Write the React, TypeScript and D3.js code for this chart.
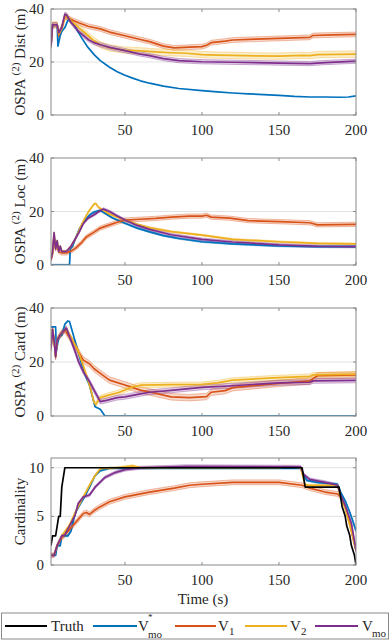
import React, { useEffect } from 'react';
import * as d3 from 'd3';

type Pt = [number, number];

// time axis
const timeTicks = [50, 100, 150, 200];
const ospaTicks = [0, 20, 40];
const cardTicks = [0, 5, 10];

// OSPA(2) Dist
const distVmoStar: Pt[] = [[2,26],[3,34],[6,34],[6.5,26],[8,30],[9,31.5],[11,33],[13,35.8],[15,35.6],[18,33],[22,29],[26,25.5],[30,22.8],[34,20.5],[40,18],[45,16.3],[50,15],[55,13.9],[60,12.9],[66,12],[75,10.9],[85,10],[100,9.2],[110,8.7],[120,8.3],[130,8],[140,7.7],[150,7.4],[160,7],[170,6.8],[180,6.8],[190,6.7],[195,6.8],[200,7.2]];
const distV1: Pt[] = [[2,26],[3,34],[6,34],[7,30],[9,33],[11,37],[12,36.8],[15,36],[20,34.8],[26,33.5],[34,32.5],[40,31.3],[50,29.9],[60,28.5],[66,27.7],[75,26],[82,25.3],[92,25.6],[100,25.8],[103,26.3],[106,27.3],[115,27.9],[120,28.3],[135,28.6],[150,28.9],[170,29.3],[172,30],[185,30.2],[200,30.4]];
const distV2: Pt[] = [[2,26],[3,34],[6,34],[7,30.5],[9,32.5],[11,37],[12,37.2],[15,35.5],[20,33],[26,30],[30,28],[34,26.5],[40,25.3],[50,24.5],[60,24.2],[70,23.8],[80,23.5],[90,23.3],[100,22.8],[110,22.6],[120,22.5],[135,22.3],[150,22.2],[165,22.5],[170,22.4],[175,22.8],[200,23]];
const distVmo: Pt[] = [[2,26],[3,34],[6,34],[7,31],[9,33],[11,38],[12,37.8],[15,35],[20,31.5],[26,28.5],[30,27.3],[34,26.5],[40,25.5],[50,24.3],[60,23],[66,22.4],[75,21.3],[85,20.5],[100,20.1],[120,19.9],[150,19.6],[170,19.4],[180,19.8],[200,20.3]];

// OSPA(2) Loc
const locVmoStar: Pt[] = [[2,0],[14,0],[14.5,6],[16,7],[18,10],[20,13],[23,16],[27,18.7],[30,19.8],[34,20.4],[38,19],[42,17.6],[50,15.6],[58,13.8],[66,12.4],[75,11],[85,9.9],[100,8.7],[120,7.9],[150,7.1],[175,6.9],[200,6.9]];
const locV1: Pt[] = [[2,2],[3,4],[4,10],[5,6],[6,8],[7,5],[9,4.5],[12,4.5],[15,5.2],[18,6.3],[22,8.5],[25,10.5],[27,11.2],[30,12.3],[34,13.8],[40,15],[45,16],[50,16.8],[60,17.1],[70,17.4],[80,17.9],[92,18.3],[100,18.3],[103,18.6],[106,17.9],[118,17.5],[130,16.6],[150,16.2],[170,15.8],[175,15],[200,15.2]];
const locV2: Pt[] = [[2,2],[3,5],[4,12],[5,6],[6,9],[7,5],[8,7],[9,5],[12,5],[15,7],[18,10],[21,14],[24,17.5],[27,20.5],[30,22.8],[31,23],[33,21.5],[36,20.5],[40,19],[50,16.8],[58,15.2],[66,14],[80,12.5],[100,11.2],[120,9.6],[150,8.7],[175,8.1],[200,7.9]];
const locVmo: Pt[] = [[2,2],[3,5],[4,12],[5,6],[6,9],[7,5],[8,7],[9,5],[12,5],[15,7],[18,10],[20,12],[23,15.5],[26,17.5],[30,18.8],[33,20],[36,20.9],[40,20],[45,18.3],[50,16.8],[58,14.8],[66,13.3],[80,11.3],[100,9.6],[120,8.6],[150,7.5],[175,7],[200,6.9]];

// OSPA(2) Card
const cardVmoStar: Pt[] = [[2,33],[5,33],[5.5,24],[7,29],[9,30],[11,34],[13,35.2],[14,35],[16,31],[19,25],[22,19],[25,14],[27,11.4],[29,7],[30.6,3.4],[34,2.5],[37,0],[200,0]];
const cardV1: Pt[] = [[2,25],[3,32],[4,28],[5,22],[6,28],[8,30],[11,32],[13,30],[17,27],[20,23.5],[23,20.7],[25,20],[27,19.3],[30,17.5],[34,15.8],[40,13.3],[50,11.5],[60,9.6],[66,8.9],[80,7.1],[92,6.8],[103,7.2],[106,8.8],[115,9.4],[120,10.5],[150,12.1],[170,13],[175,14.9],[200,15.2]];
const cardV2: Pt[] = [[2,25],[3,32],[4,28],[5,22],[6,28],[8,30],[11,32],[12,32],[15,29],[19,25],[23,18.5],[27,11.5],[30,5],[31,4.3],[34,6.8],[40,7.8],[46,8.7],[50,9.6],[55,10.8],[60,11.4],[80,11.6],[100,11.7],[110,12.3],[120,13.3],[150,14.2],[170,14.7],[172,15.2],[200,15.5]];
const cardVmo: Pt[] = [[2,25],[3,32],[4,28],[5,22],[6,28],[8,30],[11,32],[12,32.5],[15,28],[17.6,24],[20,20],[23,16.4],[27,12.7],[30,9.5],[34,5.3],[38,5.8],[45,6.8],[50,7.1],[60,8.2],[66,8.8],[80,9.5],[100,10.6],[120,11.2],[150,12.3],[170,12.5],[172,13],[200,13.2]];

// Cardinality
const numTruth: Pt[] = [[2,2],[3,3],[5,3],[6,4],[7,5],[8,5],[9,8],[10,9],[11,10],[165,10],[166,9],[167,8],[189,8],[190,7],[191,6],[193,5],[194,4],[196,3],[197,2],[199,1],[200,0]];
const numVmoStar: Pt[] = [[2,1],[5,1],[6,2],[8,2],[9,3],[13,3],[15,3.5],[17.6,5.3],[20,6],[23,6.8],[27,8],[30.6,9.2],[34,9.7],[40,9.95],[164,9.95],[166,9.3],[168,8.7],[175,8.5],[188,8.3],[190,7.5],[193,6.6],[196,5.4],[198,4.5],[200,3.5]];
const numV1: Pt[] = [[2,1],[4,1],[6,2],[9,2.8],[11,3.1],[17.6,4.3],[23,5.3],[25,5.4],[27,5.2],[30,5.6],[34,6],[40,6.5],[50,7],[66,7.5],[82,7.9],[92,8.2],[100,8.3],[120,8.5],[150,8.5],[165,8.2],[170,7.9],[180,7.5],[188,7.3],[190,7],[193,6],[196,4.2],[200,1.5]];
const numV2: Pt[] = [[2,1],[4,1],[6,2],[9,3],[14,4.1],[18,5.5],[23,7],[27,8.2],[30.6,9.2],[34,9.9],[45,10],[55,10.2],[60,10],[150,10],[155,10.1],[164,10],[166,8.8],[167,8.2],[188,8.2],[190,7],[193,5.8],[197,3.5],[200,1.5]];
const numVmo: Pt[] = [[2,1],[4,1],[6,2],[9,3],[11,3.1],[17.6,5.1],[19.6,6.3],[23,7],[27,7.2],[30.6,8],[37,9],[43.6,9.5],[50,9.8],[60,10],[80,10.1],[90,10.15],[164,10.1],[166,9.3],[170,8.8],[180,8.5],[188,8.2],[190,7.2],[193,6.1],[197,4.3],[200,1.5]];

const C = { truth: '#000000', star: '#0072BD', v1: '#D95319', v2: '#EDB120', mo: '#7E2F8E' };

type Series = { data: Pt[]; color: string; spread: number };
type Panel = { label: string; top: number; bottom: number; yMax: number; ticks: number[]; series: Series[] };

const panels: Panel[] = [
  { label: 'Dist', top: 9, bottom: 115, yMax: 40, ticks: ospaTicks, series: [
    { data: distVmoStar, color: C.star, spread: 0 },
    { data: distV1, color: C.v1, spread: 0.9 },
    { data: distV2, color: C.v2, spread: 1.2 },
    { data: distVmo, color: C.mo, spread: 0.8 },
  ] },
  { label: 'Loc', top: 158, bottom: 265, yMax: 40, ticks: ospaTicks, series: [
    { data: locVmoStar, color: C.star, spread: 0.3 },
    { data: locV1, color: C.v1, spread: 0.8 },
    { data: locV2, color: C.v2, spread: 0.3 },
    { data: locVmo, color: C.mo, spread: 0.5 },
  ] },
  { label: 'Card', top: 308, bottom: 416, yMax: 40, ticks: ospaTicks, series: [
    { data: cardVmoStar, color: C.star, spread: 0 },
    { data: cardV1, color: C.v1, spread: 1.2 },
    { data: cardV2, color: C.v2, spread: 0.9 },
    { data: cardVmo, color: C.mo, spread: 0.9 },
  ] },
  { label: 'Cardinality', top: 458, bottom: 565, yMax: 11, ticks: cardTicks, series: [
    { data: numVmoStar, color: C.star, spread: 0.1 },
    { data: numV1, color: C.v1, spread: 0.25 },
    { data: numV2, color: C.v2, spread: 0.1 },
    { data: numVmo, color: C.mo, spread: 0.15 },
    { data: numTruth, color: C.truth, spread: 0 },
  ] },
];

const LEFT = 51;
const RIGHT = 356;
const SERIF: React.CSSProperties = { fontFamily: "'Liberation Serif', 'DejaVu Serif', serif" };
const TXT = '#262626';
const AX = '#8a8a8a';

const x = d3.scaleLinear().domain([2, 200]).range([LEFT, RIGHT]);

function PanelView({ p, i }: { p: Panel; i: number }) {
  const y = d3.scaleLinear().domain([0, p.yMax]).range([p.bottom, p.top]);
  const line = d3.line<Pt>().x(d => x(d[0])).y(d => y(d[1]));
  const area = (s: number) => d3.area<Pt>().x(d => x(d[0])).y0(d => y(d[1] - s)).y1(d => y(d[1] + s));
  const edge = (s: number) => d3.line<Pt>().x(d => x(d[0])).y(d => y(d[1] + s));
  const cy = (p.top + p.bottom) / 2;
  const clipId = `clip${i}`;
  return (
    <g>
      <clipPath id={clipId}>
        <rect x={LEFT} y={p.top} width={RIGHT - LEFT} height={p.bottom - p.top} />
      </clipPath>
      {p.ticks.filter(t => t > 0 && t < p.yMax).map(t => (
        <line key={t} x1={LEFT} x2={RIGHT} y1={y(t)} y2={y(t)} stroke="#e3e3e3" strokeWidth={1} />
      ))}
      <g clipPath={`url(#${clipId})`}>
        {p.series.filter(s => s.spread > 0).map((s, k) => (
          <g key={'b' + k}>
            <path d={area(s.spread)(s.data) || ''} fill={s.color} fillOpacity={0.22} stroke="none" />
            <path d={edge(s.spread)(s.data) || ''} fill="none" stroke={s.color} strokeOpacity={0.45} strokeWidth={0.8} />
            <path d={edge(-s.spread)(s.data) || ''} fill="none" stroke={s.color} strokeOpacity={0.45} strokeWidth={0.8} />
          </g>
        ))}
        {p.series.map((s, k) => (
          <path key={'l' + k} d={line(s.data) || ''} fill="none" stroke={s.color} strokeWidth={1.7} strokeLinejoin="round" />
        ))}
      </g>
      <rect x={LEFT} y={p.top} width={RIGHT - LEFT} height={p.bottom - p.top} fill="none" stroke={AX} strokeWidth={1} />
      {timeTicks.map(t => (
        <g key={t}>
          <line x1={x(t)} x2={x(t)} y1={p.bottom} y2={p.bottom - 3} stroke={AX} />
          <line x1={x(t)} x2={x(t)} y1={p.top} y2={p.top + 3} stroke={AX} />
          <text x={x(t)} y={p.bottom + 20} textAnchor="middle" fontSize={15} fill={TXT} style={SERIF}>{t}</text>
        </g>
      ))}
      {p.ticks.map(t => (
        <g key={t}>
          <line x1={LEFT} x2={LEFT + 3} y1={y(t)} y2={y(t)} stroke={AX} />
          <line x1={RIGHT} x2={RIGHT - 3} y1={y(t)} y2={y(t)} stroke={AX} />
          <text x={44} y={y(t) + 5} textAnchor="end" fontSize={15} fill={TXT} style={SERIF}>{t}</text>
        </g>
      ))}
      <text transform={`translate(25,${cy}) rotate(-90)`} textAnchor="middle" fontSize={15} fill={TXT} style={SERIF}>
        {p.label === 'Cardinality' ? 'Cardinality' : (
          <>
            OSPA<tspan dx={3} dy={-6} fontSize={11}>(2)</tspan><tspan dy={6}>{` ${p.label} (m)`}</tspan>
          </>
        )}
      </text>
    </g>
  );
}

function Legend() {
  const ly = 626;
  const items = [
    { x1: 5, x2: 47, color: C.truth },
    { x1: 93, x2: 137, color: C.star },
    { x1: 175, x2: 216, color: C.v1 },
    { x1: 245, x2: 287, color: C.v2 },
    { x1: 315, x2: 358, color: C.mo },
  ];
  const t = { style: SERIF, fill: TXT };
  return (
    <g>
      <rect x={1.5} y={613} width={387} height={26} fill="#fff" stroke={AX} strokeWidth={1} />
      {items.map((it, k) => (
        <line key={k} x1={it.x1} x2={it.x2} y1={ly} y2={ly} stroke={it.color} strokeWidth={2} />
      ))}
      <text x={51} y={631} fontSize={15} {...t}>Truth</text>
      <text x={138} y={631} fontSize={15} {...t}>V</text>
      <text x={148} y={620} fontSize={9} {...t}>*</text>
      <text x={148} y={638} fontSize={11} {...t}>mo</text>
      <text x={218} y={631} fontSize={15} {...t}>V</text>
      <text x={229} y={635} fontSize={11} {...t}>1</text>
      <text x={290} y={631} fontSize={15} {...t}>V</text>
      <text x={301} y={635} fontSize={11} {...t}>2</text>
      <text x={362} y={631} fontSize={15} {...t}>V</text>
      <text x={372} y={637} fontSize={11} {...t}>mo</text>
    </g>
  );
}

export default function App() {
  useEffect(() => {
    document.body.style.margin = '0';
  }, []);
  return (
    <svg width={391} height={641} style={{ display: 'block', background: '#fff' }}>
      {panels.map((p, i) => <PanelView key={i} p={p} i={i} />)}
      <text x={203} y={604} textAnchor="middle" fontSize={15} fill={TXT} style={SERIF}>Time (s)</text>
      <Legend />
    </svg>
  );
}
